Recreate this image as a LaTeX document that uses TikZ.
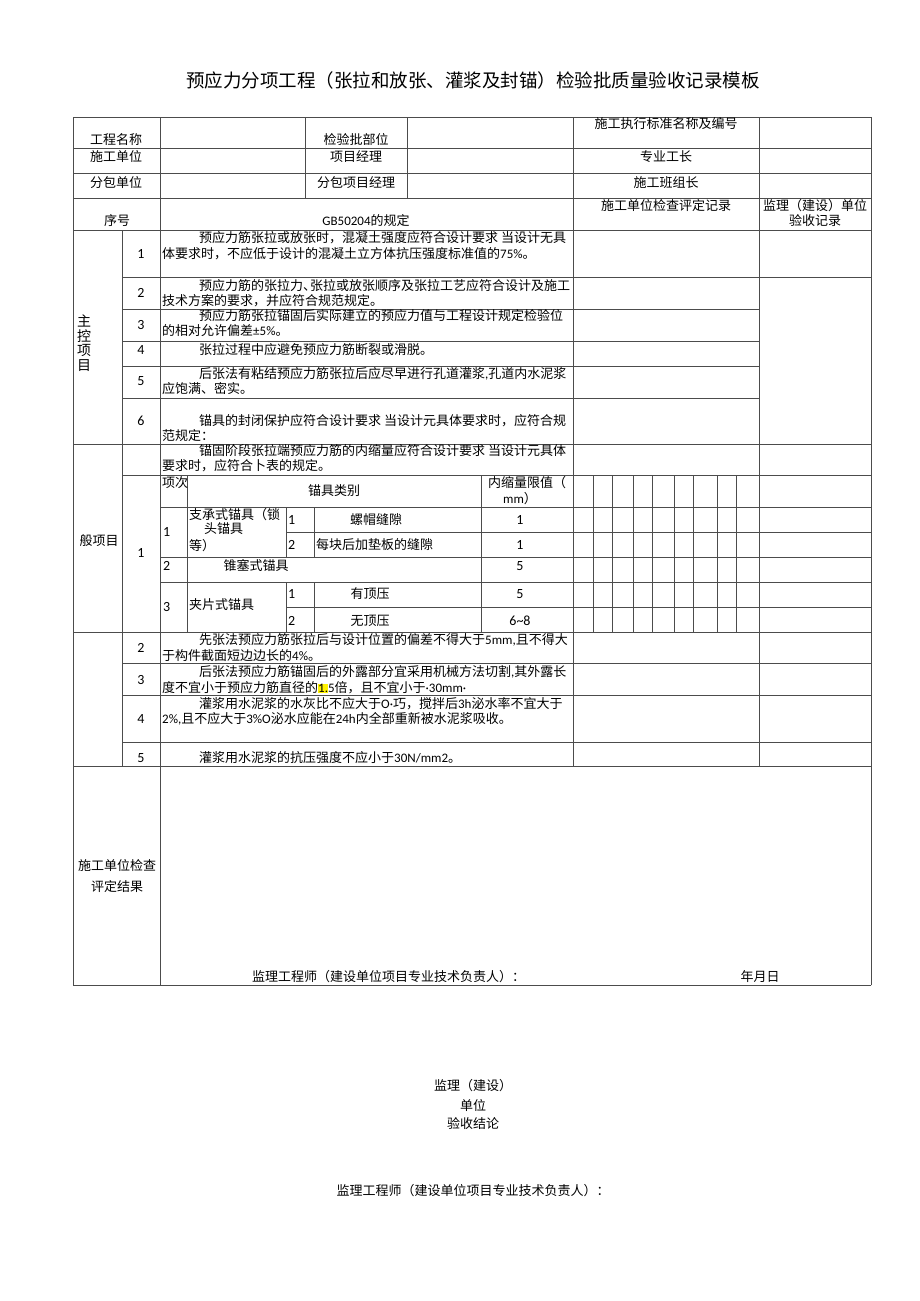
\documentclass[tikz,border=0pt]{standalone}
\usepackage{fontspec}
\setmainfont{Noto Sans CJK SC}
\newfontfamily\lat{Carlito}
\newcommand\hlmark[1]{{\setlength\fboxsep{0pt}\colorbox{yellow}{#1}}}
\tikzset{
  ln/.style={draw=black!70, line width=0.9pt, line cap=rect},
  tl/.style={inner sep=0pt, anchor=west, font=\fontsize{13}{15}\selectfont},
  ctx/.style={inner sep=0pt, anchor=center, font=\fontsize{13}{15}\selectfont},
  num/.style={inner sep=0pt, anchor=center, font=\fontsize{14}{15}\lat},
  numl/.style={inner sep=0pt, anchor=west, font=\fontsize{14}{15}\lat},
}
\begin{document}
\begin{tikzpicture}[x=1pt,y=-1pt]
\useasboundingbox (0,0) rectangle (920,1301);
\fill[white] (0,0) rectangle (920,1301);

% title
\node[inner sep=0pt, font=\fontsize{18.5}{20}\selectfont] (title) at (473,80) {预应力分项工程（张拉和放张、灌浆及封锚）检验批质量验收记录模板};

% horizontal rules
\foreach \y in {117,148,173,198,230,444,632,766,985} \draw[ln] (73,\y) -- (871,\y);
\foreach \y in {277,475,663,695,742} \draw[ln] (122,\y) -- (871,\y);
\foreach \y in {309,341,366,398} \draw[ln] (122,\y) -- (759,\y);
\foreach \y in {507,557,582} \draw[ln] (160,\y) -- (871,\y);
\foreach \y in {532,607} \draw[ln] (286,\y) -- (871,\y);
% vertical rules
\foreach \x in {73,160,871} \draw[ln] (\x,117) -- (\x,985);
\draw[ln] (122,230) -- (122,766);
\foreach \x in {305,407} \draw[ln] (\x,117) -- (\x,198);
\foreach \x in {573,759} \draw[ln] (\x,117) -- (\x,766);
\foreach \x in {187,481,593,612,633,652,674,693,717,736} \draw[ln] (\x,475) -- (\x,632);
\foreach \x in {286,314} {\draw[ln] (\x,507) -- (\x,557); \draw[ln] (\x,582) -- (\x,632);}

% header
\node[ctx] (h1) at (116,140) {工程名称};
\node[ctx] (h2) at (356,140) {检验批部位};
\node[ctx] (h3) at (666,124) {施工执行标准名称及编号};
\node[ctx] (h4) at (116,157) {施工单位};
\node[ctx] (h5) at (356,157) {项目经理};
\node[ctx] (h6) at (666,157) {专业工长};
\node[ctx] (h7) at (116,183) {分包单位};
\node[ctx] (h8) at (356,183) {分包项目经理};
\node[ctx] (h9) at (666,183) {施工班组长};
\node[ctx] (h10) at (117,221) {序号};
\node[ctx] (h11) at (366,221) {{\lat GB50204}的规定};
\node[ctx] (h12) at (666,206) {施工单位检查评定记录};
\node[ctx] (h13) at (815,206) {监理（建设）单位};
\node[ctx] (h14) at (815,221) {验收记录};

% main control items
\node[inner sep=0pt, align=center, font=\fontsize{14}{14.5}\selectfont] (zk) at (84,343) {主\\控\\项\\目};
\node[num] (m1) at (141,254) {1};
\node[num] (m2) at (141,293) {2};
\node[num] (m3) at (141,325) {3};
\node[num] (m4) at (141,350) {4};
\node[num] (m5) at (141,381) {5};
\node[num] (m6) at (141,421) {6};

\node[tl] (a1) at (199,238) {预应力筋张拉或放张时，混凝土强度应符合设计要求 当设计无具};
\node[tl] (a2) at (162,254) {体要求时，不应低于设计的混凝土立方体抗压强度标准值的{\lat 75\%}。};
\node[tl] (b1) at (199,286) {预应力筋的张拉力、\kern-6pt 张拉或放张顺序及张拉工艺应符合设计及施工};
\node[tl] (b2) at (162,301) {技术方案的要求，并应符合规范规定。};
\node[tl] (c1) at (199,316) {预应力筋张拉锚固后实际建立的预应力值与工程设计规定检验位};
\node[tl] (c2) at (162,331) {的相对允许偏差{\lat ±5\%}。};
\node[tl] (d1) at (199,350) {张拉过程中应避免预应力筋断裂或滑脱。};
\node[tl] (e1) at (199,374) {后张法有粘结预应力筋张拉后应尽早进行孔道灌浆{\lat ,}孔道内水泥浆};
\node[tl] (e2) at (162,389) {应饱满、密实。};
\node[tl] (f1) at (199,421) {锚具的封闭保护应符合设计要求 当设计元具体要求时，应符合规};
\node[tl] (f2) at (162,436) {范规定：};

% general items
\node[ctx] (yb) at (99,541) {般项目};
\node[tl] (g1) at (199,451) {锚固阶段张拉端预应力筋的内缩量应符合设计要求 当设计元具体};
\node[tl] (g2) at (162,466) {要求时，应符合卜表的规定。};
\node[num] (gn1) at (141,553) {1};

\node[tl] (s1) at (162,483) {项次};
\node[ctx] (s2) at (334,491) {锚具类别};
\node[ctx] (s3) at (527,483) {内缩量限值（};
\node[ctx] (s4) at (520,499) {{\lat mm}）};
\node[numl] (s5) at (163,532) {1};
\node[tl] (s6) at (189,515) {支承式锚具（锁};
\node[tl] (s7) at (204,529) {头锚具};
\node[tl] (s8) at (189,546) {等）};
\node[numl] (s9) at (288,520) {1};
\node[numl] (s10) at (288,545) {2};
\node[ctx] (s11) at (376,520) {螺帽缝隙};
\node[tl] (s12) at (316,545) {每块后加垫板的缝隙};
\node[numl] (s13) at (163,566) {2};
\node[ctx] (s14) at (256,566) {锥塞式锚具};
\node[numl] (s15) at (163,607) {3};
\node[tl] (s16) at (189,605) {夹片式锚具};
\node[numl] (s17) at (288,594) {1};
\node[numl] (s18) at (288,621) {2};
\node[ctx] (s19) at (370,594) {有顶压};
\node[ctx] (s20) at (370,621) {无顶压};
\node[num] (v1) at (520,520) {1};
\node[num] (v2) at (520,545) {1};
\node[num] (v3) at (520,566) {5};
\node[num] (v4) at (520,594) {5};
\node[num] (v5) at (520,621) {6\textasciitilde 8};

\node[num] (gn2) at (141,648) {2};
\node[num] (gn3) at (141,680) {3};
\node[num] (gn4) at (141,719) {4};
\node[num] (gn5) at (141,758) {5};
\node[tl] (k1) at (199,640) {先张法预应力筋张拉后与设计位置的偏差不得大于{\lat 5mm,}且不得大};
\node[tl] (k2) at (162,656) {于构件截面短边边长的{\lat 4\%}。};
\node[tl] (l1) at (199,672) {后张法预应力筋锚固后的外露部分宜采用机械方法切割{\lat ,}其外露长};
\node[tl] (l2) at (162,688) {度不宜小于预应力筋直径的\hlmark{\lat 1.}{\lat 5}倍，且不宜小于{\lat ·30mm·}};
\node[tl] (o1) at (199,704) {灌浆用水泥浆的水灰比不应大于{\lat O·}巧，搅拌后{\lat 3h}泌水率不宜大于};
\node[tl] (o2) at (162,719) {{\lat 2\%,}且不应大于{\lat 3\%O}泌水应能在{\lat 24h}内全部重新被水泥浆吸收。};
\node[tl] (p1) at (199,758) {灌浆用水泥浆的抗压强度不应小于{\lat 30N/mm2}。};

% result section
\node[ctx] (r1) at (117,866) {施工单位检查};
\node[ctx] (r2) at (117,887) {评定结果};
\node[tl] (r3) at (252,977) {监理工程师（建设单位项目专业技术负责人）：};
\node[ctx] (r4) at (760,977) {年月日};

% below table
\node[ctx] (u1) at (473,1086) {监理（建设）};
\node[ctx] (u2) at (473,1105) {单位};
\node[ctx] (u3) at (473,1124) {验收结论};
\node[ctx] (u4) at (473,1191) {监理工程师（建设单位项目专业技术负责人）：};
\end{tikzpicture}
\end{document}
